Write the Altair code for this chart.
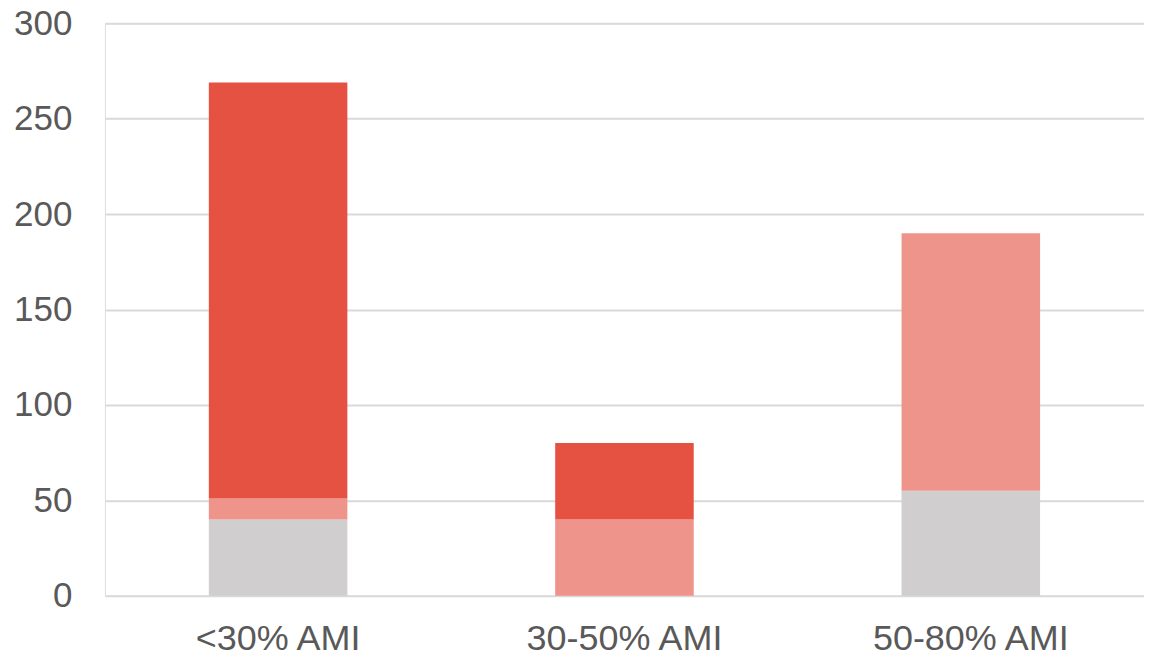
import altair as alt
import pandas as pd

categories = ["<30% AMI", "30-50% AMI", "50-80% AMI"]
series = ["Grey", "Light", "Red"]
grey_vals = [40, 0, 55]
light_vals = [11, 40, 135]
red_vals = [218, 40, 0]
colors = ["#D0CECE", "#EF948B", "#E65241"]

rows = []
for i, c in enumerate(categories):
    for k, (s, v) in enumerate(zip(series, [grey_vals[i], light_vals[i], red_vals[i]])):
        rows.append({"category": c, "series": s, "value": v, "order": k})
df = pd.DataFrame(rows)

chart = alt.Chart(df).mark_bar().encode(
    x=alt.X("category:N", sort=categories, title=None,
            scale=alt.Scale(paddingInner=0.6, paddingOuter=0.3),
            axis=alt.Axis(labelAngle=0, labelFontSize=36, labelFont="Liberation Sans",
                          labelColor="#595959", ticks=False, domain=False, labelPadding=26,
                          labelLimit=0)),
    y=alt.Y("value:Q", stack="zero", title=None,
            scale=alt.Scale(domain=[0, 300], nice=False),
            axis=alt.Axis(values=[0, 50, 100, 150, 200, 250, 300], labelFontSize=35,
                          labelFont="Liberation Sans", labelColor="#595959", ticks=False,
                          domain=False, labelPadding=33, gridColor="#D9D9D9", gridWidth=2)),
    color=alt.Color("series:N", scale=alt.Scale(domain=series, range=colors), legend=None),
    order=alt.Order("order:Q", sort="ascending"),
).properties(
    width=1040, height=573,
    autosize="none",
    padding={"left": 97, "top": 15, "right": 0, "bottom": 64},
).configure_view(stroke=None).configure(background="white")

chart.save("out.html", embed_options={"renderer": "svg", "actions": False})
